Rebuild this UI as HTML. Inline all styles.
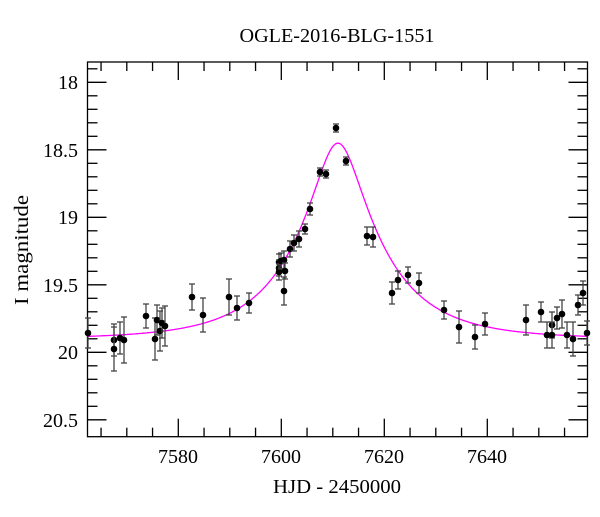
<!DOCTYPE html>
<html><head><meta charset="utf-8"><style>
body{margin:0;background:#fff}
svg text{font-family:"Liberation Serif",serif;fill:#000}
</style></head><body>
<svg id="s" width="600" height="512" xmlns="http://www.w3.org/2000/svg">
<text x="337" y="42" font-size="20" text-anchor="middle" textLength="195" lengthAdjust="spacingAndGlyphs">OGLE-2016-BLG-1551</text>
<text x="337" y="493" font-size="20" text-anchor="middle" textLength="128" lengthAdjust="spacingAndGlyphs">HJD - 2450000</text>
<text x="28" y="250" font-size="20" text-anchor="middle" transform="rotate(-90 28 250)" textLength="110" lengthAdjust="spacingAndGlyphs">I magnitude</text>
<g font-size="20" text-anchor="end">
<text x="78" y="89">18</text>
<text x="78" y="157">18.5</text>
<text x="78" y="224">19</text>
<text x="78" y="292">19.5</text>
<text x="78" y="359">20</text>
<text x="78" y="427">20.5</text>
</g>
<g font-size="20" text-anchor="middle">
<text x="178" y="463">7580</text>
<text x="281" y="463">7600</text>
<text x="384" y="463">7620</text>
<text x="487" y="463">7640</text>
</g>
<g id="ax" stroke="#000" stroke-width="1.3" fill="none"></g>
<path id="cv" stroke="#ff00ff" stroke-width="1.3" fill="none"/>
<g id="pts"></g>
</svg>
<script>
var L=87.5,R=587.5,T=62,B=436.7;
function X(t){return 281.3+5.15*(t-7600);}
function Y(m){return 82.3+(m-18)*135;}
var a='';
a+='<rect x="'+L+'" y="'+T+'" width="'+(R-L)+'" height="'+(B-T)+'"/>';
for(var t=7565;t<7660;t+=5){var x=X(t);var len=(t%20==0)?18:9;
a+='<line x1="'+x+'" y1="'+B+'" x2="'+x+'" y2="'+(B-len)+'"/>';
a+='<line x1="'+x+'" y1="'+T+'" x2="'+x+'" y2="'+(T+len)+'"/>';}
for(var i=-1;i<=26;i++){var m=17.9+i*0.1;var y=Y(m);if(y<T||y>B)continue;
var maj=(Math.abs(m*2-Math.round(m*2))<0.01);var len=maj?19:10;
a+='<line x1="'+L+'" y1="'+y+'" x2="'+(L+len)+'" y2="'+y+'"/>';
a+='<line x1="'+R+'" y1="'+y+'" x2="'+(R-len)+'" y2="'+y+'"/>';}
document.getElementById('ax').innerHTML=a;
var d='';
for(var x=L;x<=R;x+=1){var t=7600+(x-281.3)/5.15;var tau=(t-7611)/16.6;var u=Math.sqrt(0.27*0.27+tau*tau);
var A=(u*u+2)/(u*Math.sqrt(u*u+4));var dm=2.5*Math.log10(A);var y=339-dm*135;
d+=(d?'L':'M')+x.toFixed(1)+' '+y.toFixed(1);}
document.getElementById('cv').setAttribute('d',d);
var P=[[88,333,15],[114,340,16],[114,349,22],[120,338,16],[124,340,23],[146,316,12],[155,339,21],[157,320,15],[160,331,20],[162,323,15],[165,326,20],[192,297,13],[203,315,17],[229,297,18],[237,308,12],[249,303,10],
[279,262,8],[279,268,8],[279,272,8],[281,261,8],[284,260,9],[285,271,8],[284,291,14],[290,249,8],[294,243,8],[299,239,8],[305,229,5],[310,209,6],[320,172,4],[326,174,4],[336,128,4],[346,161,4],[367,236,9],[373,237,10],
[392,293,11],[398,280,9],[408,275,8],[419,283,10],[444,310,9],[459,327,16],[475,337,12],[485,324,11],[526,320,15],[541,312,10],[547,335,13],[552,325,13],[552,335,13],[557,318,11],[562,314,14],[567,335,13],[573,339,17],[578,305,10],[583,293,12],[587,333,12]];
var p='';
P.forEach(function(q){var x=q[0],y=q[1],e=q[2];
p+='<g stroke="#444" stroke-width="1.3"><line x1="'+x+'" y1="'+(y-e)+'" x2="'+x+'" y2="'+(y+e)+'"/><line x1="'+(x-3)+'" y1="'+(y-e)+'" x2="'+(x+3)+'" y2="'+(y-e)+'"/><line x1="'+(x-3)+'" y1="'+(y+e)+'" x2="'+(x+3)+'" y2="'+(y+e)+'"/></g>';
p+='<circle cx="'+x+'" cy="'+y+'" r="3.3" fill="#000"/>';});
document.getElementById('pts').innerHTML=p;
</script>
</body></html>
